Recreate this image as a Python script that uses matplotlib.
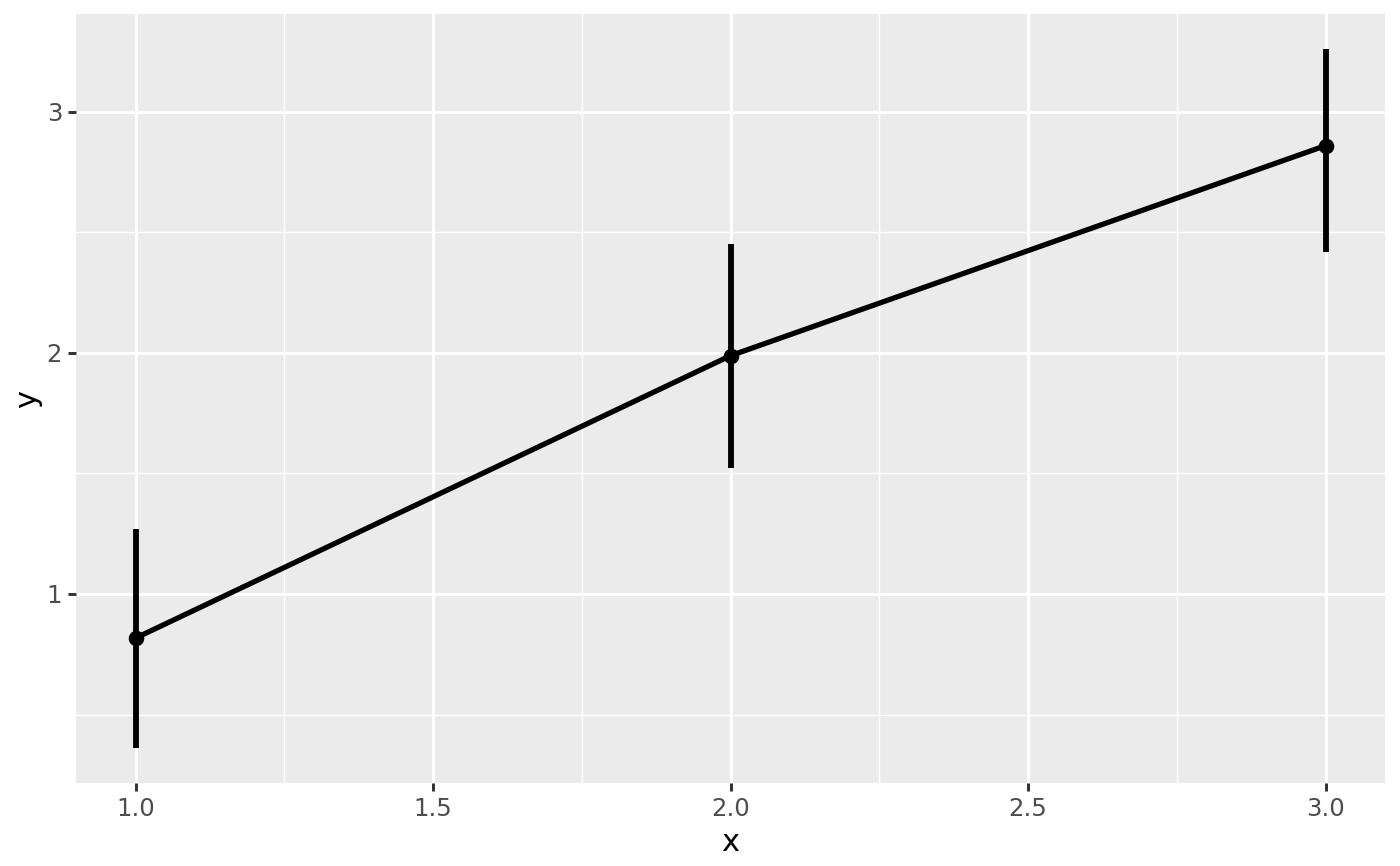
import matplotlib
matplotlib.use("Agg")
import matplotlib.pyplot as plt

# data
x = [1, 2, 3]
y = [0.817, 1.988, 2.859]
ymin = [0.361, 1.523, 2.420]
ymax = [1.271, 2.452, 3.260]

x_ticks = [1.0, 1.5, 2.0, 2.5, 3.0]
x_labels = ["1.0", "1.5", "2.0", "2.5", "3.0"]
y_ticks = [1, 2, 3]
y_labels = ["1", "2", "3"]

fig = plt.figure(figsize=(7, 4.33), dpi=200)
ax = fig.add_axes([76 / 1400, 1 - 783 / 866, (1385 - 76) / 1400, (783 - 14) / 866])
ax.set_facecolor("#EBEBEB")
for s in ax.spines.values():
    s.set_visible(False)

# ggplot-like limits (5% / 0.1 expansion)
lo, hi = min(ymin), max(ymax)
pad = (hi - lo) * 0.05
ax.set_ylim(lo - pad, hi + pad)
ax.set_xlim(0.9, 3.1)

ax.set_xticks(x_ticks)
ax.set_xticklabels(x_labels)
ax.set_yticks(y_ticks)
ax.set_yticklabels(y_labels)
ax.set_xticks([1.25, 1.75, 2.25, 2.75], minor=True)
ax.set_yticks([0.5, 1.5, 2.5], minor=True)

ax.grid(which="major", color="white", linewidth=1.07)
ax.grid(which="minor", color="white", linewidth=0.53)
ax.set_axisbelow(True)
ax.tick_params(which="major", length=2.75, width=1.07, color="#333333",
               labelsize=8.8, labelcolor="#4D4D4D", pad=2.2)
ax.tick_params(which="minor", length=0)

ax.vlines(x, ymin, ymax, color="black", linewidth=2.1, zorder=3)
ax.plot(x, y, color="black", linewidth=1.9, zorder=4)
ax.plot(x, y, "o", color="black", markersize=4.6, zorder=5)

ax.set_xlabel("x", fontsize=11, labelpad=2.5)
ax.set_ylabel("y", fontsize=11, labelpad=1.5)

fig.savefig("out.png", dpi=200)
